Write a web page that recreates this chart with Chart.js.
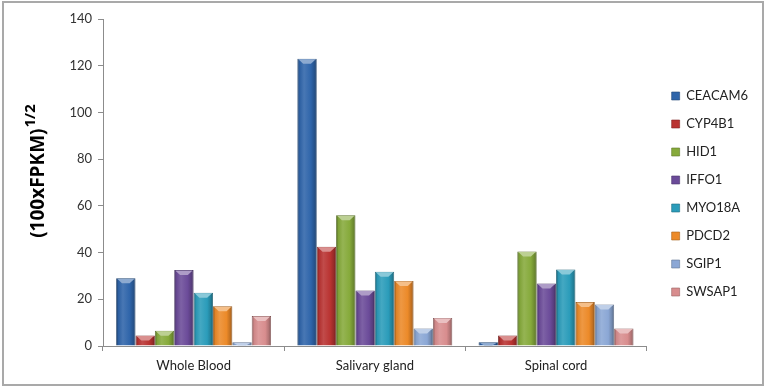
<!DOCTYPE html>
<html>
<head>
<meta charset="utf-8">
<script src="https://cdn.jsdelivr.net/npm/chart.js@4/dist/chart.umd.min.js"></script>
<style>
  body { margin: 0; background: #fff; }
  #wrap { position: relative; width: 765px; height: 389px; }
  #frame { position: absolute; left: 2px; top: 1px; width: 758px; height: 381px; border: 2px solid #a9a9a9; pointer-events: none; }
</style>
</head>
<body>
<div id="wrap">
  <canvas id="myChart" width="765" height="389"></canvas>
  <div id="frame"></div>
</div>
<script>
// tissues and genes
var tissues = ['Whole Blood', 'Salivary gland', 'Spinal cord'];
var genes = ['CEACAM6', 'CYP4B1', 'HID1', 'IFFO1', 'MYO18A', 'PDCD2', 'SGIP1', 'SWSAP1'];

// (100xFPKM)^1/2 per gene, one value per tissue
var ceacam6 = [29, 123, 1.6];
var cyp4b1  = [4.5, 42.5, 4.5];
var hid1    = [6.5, 56, 40.5];
var iffo1   = [32.5, 23.8, 26.8];
var myo18a  = [22.8, 31.8, 32.8];
var pdcd2   = [17, 27.8, 18.8];
var sgip1   = [1.6, 7.5, 17.8];
var swsap1  = [12.8, 12, 7.5];

var yTicks = [0, 20, 40, 60, 80, 100, 120, 140];

var seriesValues = [ceacam6, cyp4b1, hid1, iffo1, myo18a, pdcd2, sgip1, swsap1];
var baseColors = ['#2f65aa', '#b93331', '#86aa3b', '#6b4b99', '#2b9cba', '#ec8a29', '#8ba7d5', '#d88d8e'];

var CAT_PCT = 0.855;

function shade(hex, f) {
  var n = parseInt(hex.slice(1), 16);
  var r = (n >> 16) & 255, g = (n >> 8) & 255, b = n & 255;
  if (f < 0) { r = r * (1 + f); g = g * (1 + f); b = b * (1 + f); }
  else { r = r + (255 - r) * f; g = g + (255 - g) * f; b = b + (255 - b) * f; }
  return 'rgb(' + Math.round(r) + ',' + Math.round(g) + ',' + Math.round(b) + ')';
}

// horizontal shading so the bars look rounded like the original
function barFill(c) {
  var base = baseColors[c.datasetIndex];
  if (c.type !== 'data') return base;
  var xs = c.chart.scales.x;
  if (!xs || !xs.width) return base;
  var catW = xs.width / tissues.length;
  var barW = catW * CAT_PCT / genes.length;
  var left = xs.getPixelForValue(c.dataIndex) - catW * CAT_PCT / 2 + c.datasetIndex * barW;
  var g = c.chart.ctx.createLinearGradient(left, 0, left + barW, 0);
  g.addColorStop(0, shade(base, -0.4));
  g.addColorStop(0.12, shade(base, -0.05));
  g.addColorStop(0.35, shade(base, 0.12));
  g.addColorStop(0.7, base);
  g.addColorStop(0.9, shade(base, -0.2));
  g.addColorStop(1, shade(base, -0.45));
  return g;
}

var datasets = genes.map(function(name, i) {
  return {
    label: name,
    data: seriesValues[i],
    backgroundColor: barFill,
    borderColor: shade(baseColors[i], -0.4),
    borderWidth: 0.8,
    borderSkipped: 'bottom',
    categoryPercentage: CAT_PCT,
    barPercentage: 1
  };
});

// light bevel on the top of every bar
var bevel = {
  id: 'bevel',
  afterDatasetsDraw: function(chart) {
    var ctx = chart.ctx;
    chart.data.datasets.forEach(function(ds, i) {
      chart.getDatasetMeta(i).data.forEach(function(el) {
        var h = Math.min(5, el.base - el.y);
        if (h < 1.5) return;
        var l = el.x - el.width / 2, r = el.x + el.width / 2;
        ctx.save();
        ctx.fillStyle = shade(baseColors[i], 0.45);
        ctx.beginPath();
        ctx.moveTo(l + 1, el.y + 0.5);
        ctx.lineTo(r - 1, el.y + 0.5);
        ctx.lineTo(r - el.width * 0.3, el.y + h);
        ctx.lineTo(l + el.width * 0.3, el.y + h);
        ctx.closePath();
        ctx.fill();
        ctx.restore();
      });
    });
  }
};

// rotated axis title with a superscript
var yTitle = {
  id: 'yTitle',
  afterDraw: function(chart) {
    var ctx = chart.ctx;
    var a = chart.chartArea;
    ctx.save();
    ctx.translate(44, (a.top + a.bottom) / 2 - 11);
    ctx.rotate(-Math.PI / 2);
    ctx.fillStyle = '#000';
    ctx.textBaseline = 'alphabetic';
    ctx.font = 'bold 19px "Open Sans", Arial, sans-serif';
    var main = '(100xFPKM)';
    var w1 = ctx.measureText(main).width;
    ctx.font = 'bold 15px "Open Sans", Arial, sans-serif';
    var sup = '1/2';
    var w2 = ctx.measureText(sup).width;
    var x0 = -(w1 + w2) / 2;
    ctx.font = 'bold 19px "Open Sans", Arial, sans-serif';
    ctx.fillText(main, x0, 0);
    ctx.font = 'bold 15px "Open Sans", Arial, sans-serif';
    ctx.fillText(sup, x0 + w1 + 1, -9);
    ctx.restore();
  }
};

// push legend a bit right of the plot area and up a little
var legendShift = {
  id: 'legendShift',
  afterLayout: function(chart) {
    var lg = chart.legend;
    if (lg) { lg.left += 10; lg.right += 10; lg.top -= 10; lg.bottom -= 10; }
  }
};

var ctx = document.getElementById('myChart').getContext('2d');
var chart = new Chart(ctx, {
  type: 'bar',
  data: {
    labels: tissues,
    datasets: datasets
  },
  plugins: [bevel, yTitle, legendShift],
  options: {
    responsive: false,
    animation: false,
    layout: { padding: { left: 10, top: 19, right: 17, bottom: 0 } },
    plugins: {
      legend: {
        position: 'right',
        labels: {
          boxWidth: 8,
          boxHeight: 8,
          padding: 15,
          color: '#222',
          font: { family: 'Lato, "Open Sans", sans-serif', size: 13 },
          generateLabels: function(chart) {
            return chart.data.datasets.map(function(ds, i) {
              return {
                text: ds.label,
                fillStyle: baseColors[i],
                strokeStyle: shade(baseColors[i], -0.3),
                lineWidth: 0.6,
                fontColor: '#222',
                hidden: false,
                datasetIndex: i
              };
            });
          }
        }
      },
      tooltip: { enabled: false }
    },
    scales: {
      x: {
        afterFit: function(s) { s.height = 43; },
        grid: { offset: true, drawOnChartArea: false, drawTicks: true, tickLength: 5, color: '#8c8c8c' },
        border: { display: true, color: '#8c8c8c' },
        ticks: { color: '#222', padding: 7, font: { family: 'Lato, "Open Sans", sans-serif', size: 13 } }
      },
      y: {
        min: 0,
        max: 140,
        afterFit: function(s) { s.width = 93; },
        afterBuildTicks: function(s) { s.ticks = yTicks.map(function(v) { return { value: v }; }); },
        grid: { drawOnChartArea: false, drawTicks: true, tickLength: 5, color: '#8c8c8c' },
        border: { display: true, color: '#8c8c8c' },
        ticks: { color: '#333', padding: 6, font: { family: 'Lato, "Open Sans", sans-serif', size: 13 } }
      }
    }
  }
});
</script>
</body>
</html>
